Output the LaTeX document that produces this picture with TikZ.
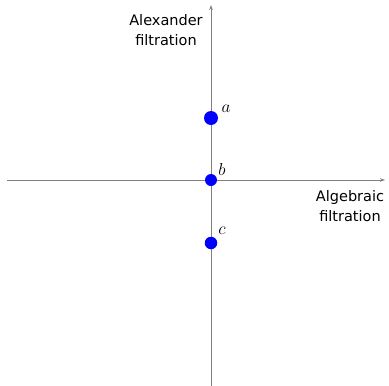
\documentclass[tikz,border=0pt]{standalone}
\usepackage{fontspec}
\setsansfont{DejaVu Sans}
\usetikzlibrary{arrows.meta}
\tikzset{
  axis/.style={draw=gray, line width=0.9pt, -{Stealth[length=5pt,width=3.5pt]}},
  dot/.style={circle, fill=blue, inner sep=0pt, minimum size=#1},
  lbl/.style={font=\fontsize{19}{19}\selectfont, inner sep=0pt},
  axlabel/.style={font=\sffamily\fontsize{14.5}{19.5}\selectfont, align=center, inner sep=0pt}
}
\begin{document}
\begin{tikzpicture}[x=1pt,y=-1pt]
\useasboundingbox (0,0) rectangle (389,386);
\coordinate (vb) at (211,386);
\coordinate (vt) at (211,5);
\coordinate (hl) at (7,180);
\coordinate (hr) at (385,180);
\draw[axis] (vb) -- (vt);
\draw[axis] (hl) -- (hr);
\node[dot=14pt] (a) at (211,118) {};
\node[dot=12pt] (b) at (211,180) {};
\node[dot=12.5pt] (c) at (211,243) {};
\node[lbl] (la) at (226,109) {$a$};
\node[lbl] (lb) at (222,169) {$b$};
\node[lbl] (lc) at (222,231) {$c$};
\node[axlabel] (alex) at (166,30) {Alexander\\filtration};
\node[axlabel] (alg) at (350,206) {Algebraic\\filtration};
\end{tikzpicture}
\end{document}
